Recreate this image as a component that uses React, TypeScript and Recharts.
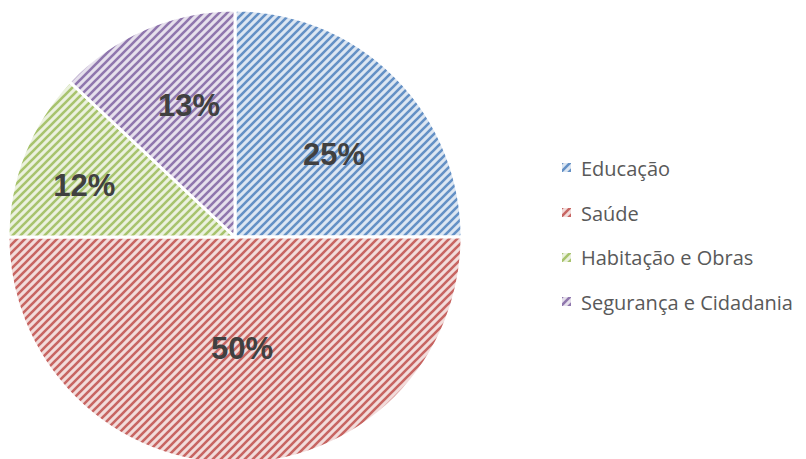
import { PieChart, Pie, Cell, Legend } from 'recharts'

const categories = ['Educação', 'Saúde', 'Habitação e Obras', 'Segurança e Cidadania']
const shares = [25, 50, 12, 13]

const FG = ['#4f81bd', '#c0504d', '#9bbb59', '#8064a2']
const BG = ['#dce6f2', '#f2dcdb', '#ebf1de', '#e6e0ec']
// label distance from centre (fraction of radius) plus a small best-fit nudge
const LABEL_POS = [0.57, 0.5, 0.7, 0.61]
const LABEL_NUDGE = [[7.5, 8.5], [7, -2.5], [-3, 6.5], [9, -4.5]]

const data = categories.map((name, i) => ({ name, value: shares[i] }))

const RADIAN = Math.PI / 180

function renderLabel(props: any) {
  const { cx, cy, midAngle, outerRadius, index, value } = props
  const r = outerRadius * LABEL_POS[index]
  const x = cx + r * Math.cos(-midAngle * RADIAN) + LABEL_NUDGE[index][0]
  const y = cy + r * Math.sin(-midAngle * RADIAN) + LABEL_NUDGE[index][1]
  return (
    <text
      x={x}
      y={y}
      fill="#404040"
      textAnchor="middle"
      dominantBaseline="central"
      style={{ fontFamily: '"Liberation Sans", Arial, sans-serif', fontWeight: 700, fontSize: 31 }}
    >
      {value}%
    </text>
  )
}

function LegendBox() {
  return (
    <div style={{ fontFamily: '"Open Sans", sans-serif', fontSize: 20, color: '#595959' }}>
      {data.map((d, i) => (
        <div key={d.name} style={{ display: 'flex', alignItems: 'center', height: 44.7, whiteSpace: 'nowrap' }}>
          <svg width={10} height={10} style={{ marginRight: 9 }}>
            <rect x={0} y={0} width={9} height={9} fill={`url(#hatch${i})`} />
          </svg>
          <span>{d.name}</span>
        </div>
      ))}
    </div>
  )
}

export default function App() {
  return (
    <div style={{ position: 'absolute', left: 0, top: 0, width: 806, height: 459, background: '#fff' }}>
      <PieChart width={806} height={459} margin={{ top: 0, right: 0, bottom: 0, left: 0 }}>
        <defs>
          {FG.map((c, i) => (
            <pattern key={i} id={`hatch${i}`} patternUnits="userSpaceOnUse" width={8} height={8}>
              <rect width={8} height={8} fill={BG[i]} />
              <path d="M-1,9 L9,-1 M-1,1 L1,-1 M7,9 L9,7" stroke={c} strokeWidth={2.6} strokeOpacity={0.85} />
            </pattern>
          ))}
        </defs>
        <Pie
          data={data}
          dataKey="value"
          cx={235}
          cy={237}
          outerRadius={227}
          startAngle={90}
          endAngle={-270}
          stroke="#ffffff"
          strokeWidth={3}
          label={renderLabel}
          labelLine={false}
          isAnimationActive={false}
        >
          {data.map((_, i) => (
            <Cell key={i} fill={`url(#hatch${i})`} />
          ))}
        </Pie>
        <Legend
          layout="vertical"
          align="right"
          verticalAlign="top"
          content={<LegendBox />}
          wrapperStyle={{ left: 562, top: 146, width: 244 }}
        />
      </PieChart>
    </div>
  )
}
